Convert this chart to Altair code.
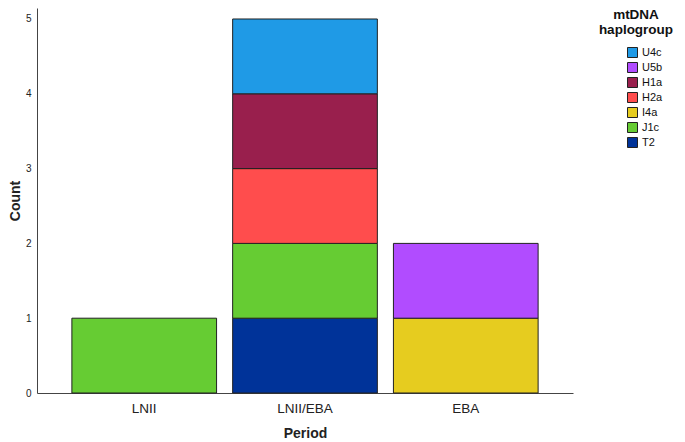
import altair as alt
import pandas as pd

periods = ["LNII", "LNII/EBA", "EBA"]
haplogroups = ["U4c", "U5b", "H1a", "H2a", "I4a", "J1c", "T2"]
colors = ["#1f9ae6", "#b14cff", "#991f4d", "#ff4d4d", "#e6cc1f", "#66cc33", "#003399"]

bar_period = ["LNII", "LNII/EBA", "LNII/EBA", "LNII/EBA", "LNII/EBA", "LNII/EBA", "EBA", "EBA"]
bar_group = ["J1c", "T2", "J1c", "H2a", "H1a", "U4c", "I4a", "U5b"]
bar_count = [1, 1, 1, 1, 1, 1, 1, 1]

df = pd.DataFrame({"Period": bar_period, "Haplogroup": bar_group, "Count": bar_count})
df["rank"] = df["Haplogroup"].map({h: i for i, h in enumerate(haplogroups)})

FONT = "Liberation Sans"

bars = alt.Chart(df).mark_bar(stroke="#222222", strokeWidth=1).encode(
    x=alt.X("Period:N", sort=periods,
            scale=alt.Scale(paddingInner=0.1, paddingOuter=0.217),
            axis=alt.Axis(title="Period", labelAngle=0, tickSize=0, labelPadding=8,
                          labelFontSize=13.5, labelColor="#222222", titleFontSize=14,
                          titleFontWeight="bold", titleColor="#222222", titlePadding=12,
                          domainColor="#444444", labelFont=FONT, titleFont=FONT)),
    y=alt.Y("sum(Count):Q", stack="zero",
            scale=alt.Scale(domain=[0, 5.147], nice=False),
            axis=alt.Axis(title="Count", values=[0, 1, 2, 3, 4, 5], tickSize=0,
                          labelPadding=6, labelFontSize=10, labelColor="#222222",
                          titleFontSize=14, titleFontWeight="bold", titleColor="#222222",
                          titlePadding=3, grid=False, domainColor="#444444",
                          labelFont=FONT, titleFont=FONT)),
    color=alt.Color("Haplogroup:N", scale=alt.Scale(domain=haplogroups, range=colors),
                    legend=alt.Legend(title=None, orient="none", legendX=590, legendY=39,
                                      symbolType="square", symbolSize=100,
                                      symbolStrokeColor="#222222", symbolStrokeWidth=1,
                                      labelFontSize=11, labelFont=FONT, labelColor="#111111",
                                      rowPadding=0, labelOffset=4)),
    order=alt.Order("rank:Q", sort="descending"),
)

legend_title = alt.Chart(pd.DataFrame({"t": [0]})).mark_text(
    text=["mtDNA", "haplogroup"], lineHeight=15, font=FONT, fontSize=13.5,
    fontWeight="bold", align="center", baseline="top", color="#111111"
).encode(x=alt.value(599), y=alt.value(0))

chart = alt.layer(bars, legend_title).properties(
    width=536, height=385,
    autosize=alt.AutoSizeParams(type="none"),
    padding={"left": 29, "top": 0, "right": 104, "bottom": 50},
).configure_view(stroke=None)

chart.save("out.html", embed_options={"renderer": "svg", "actions": False})
